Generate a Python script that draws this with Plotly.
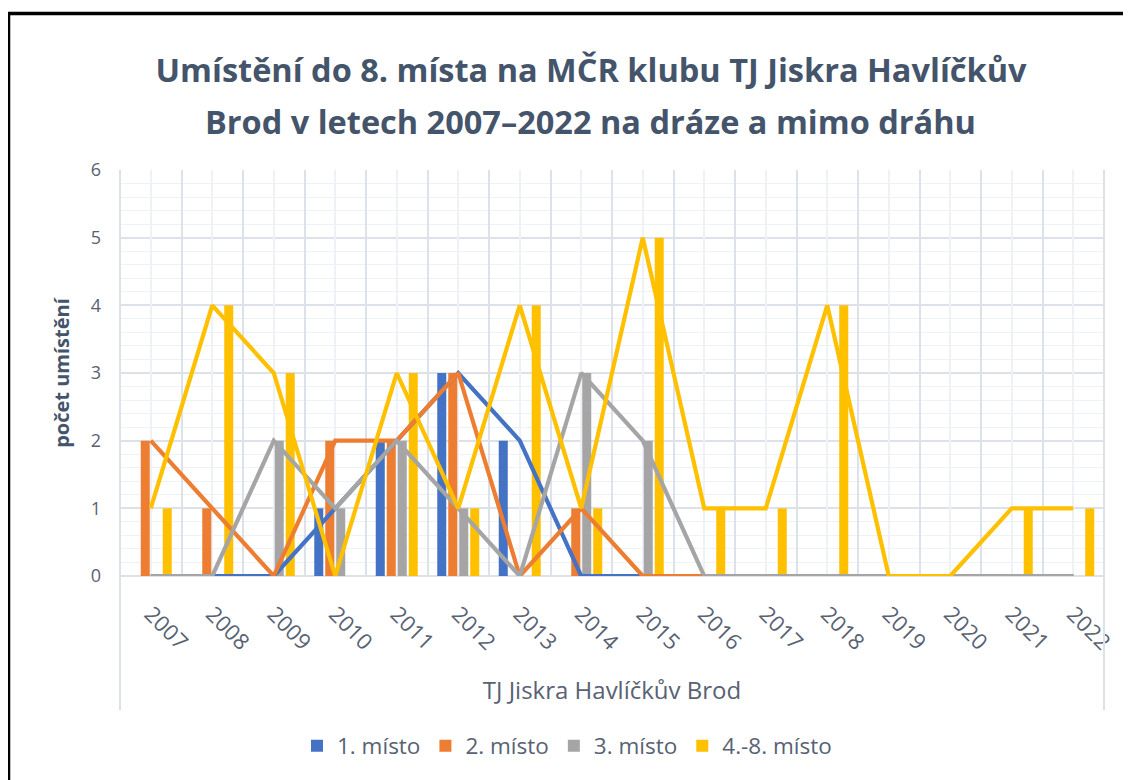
import plotly.graph_objects as go

years = [str(y) for y in range(2007, 2023)]
first = [0, 0, 0, 1, 2, 3, 2, 0, 0, 0, 0, 0, 0, 0, 0, 0]
second = [2, 1, 0, 2, 2, 3, 0, 1, 0, 0, 0, 0, 0, 0, 0, 0]
third = [0, 0, 2, 1, 2, 1, 0, 3, 2, 0, 0, 0, 0, 0, 0, 0]
fourth = [1, 4, 3, 0, 3, 1, 4, 1, 5, 1, 1, 4, 0, 0, 1, 1]

names = ["1. místo", "2. místo", "3. místo", "4.-8. místo"]
colors = ["#4472C4", "#ED7D31", "#A5A5A5", "#FFC000"]
series = [first, second, third, fourth]

title_line1 = "Umístění do 8. místa na MČR klubu TJ Jiskra Havlíčkův"
title_line2 = "Brod v letech 2007–2022 na dráze a mimo dráhu"
y_title = "počet umístění"
x_title = "TJ Jiskra Havlíčkův Brod"

TEXT = "#44546A"
TICK = "#586273"
GRID = "#DCE1EA"
MINOR = "#EEF1F5"
FONT = "Open Sans"

fig = go.Figure()
for n, c, s in zip(names, colors, series):
    fig.add_trace(go.Bar(x=years, y=s, name=n, marker=dict(color=c, line=dict(width=0)),
                         xaxis="x", yaxis="y", showlegend=True))
for n, c, s in zip(names, colors, series):
    fig.add_trace(go.Scatter(x=years, y=s, name=n, mode="lines",
                             line=dict(color=c, width=4.2), xaxis="x2", yaxis="y",
                             showlegend=False))

# page has an 8px body margin; work in page coordinates and convert
OFF = 8
W, H = 1131 - OFF, 780 - OFF
PL, PR, PT, PB = 120, 1104, 170, 576   # plot area in page px
L, R, T, B = PL - OFF, W - (PR - OFF), PT - OFF, H - (PB - OFF)
pw = PR - PL
ph = PB - PT

def px2x(px):
    return (px - PL) / pw

def py2y(py):
    return (PB - py) / ph

TSIZE = 32.5
fig.update_layout(
    width=W, height=H,
    margin=dict(l=L, r=R, t=T, b=B, autoexpand=False),
    paper_bgcolor="white", plot_bgcolor="white",
    barmode="group", bargap=0.285, bargroupgap=0.18,
    font=dict(family=FONT, color=TICK),
    title=dict(text=title_line1, x=(591 - OFF) / W, xanchor="center", xref="container",
               y=1 - (59 - OFF) / H, yanchor="top", yref="container",
               font=dict(family=FONT, size=TSIZE, color=TEXT, weight=700)),
    annotations=[dict(text=title_line2, xref="paper", yref="paper", x=px2x(590),
                      xanchor="center", y=py2y(122), yanchor="middle", showarrow=False,
                      font=dict(family=FONT, size=TSIZE, color=TEXT, weight=700))],
    xaxis=dict(type="category", categoryorder="array", categoryarray=years,
               range=[-0.5, 15.5], tickson="boundaries", showgrid=True, gridcolor=GRID,
               gridwidth=1.5, ticks="", tickangle=45, tickfont=dict(size=22, color=TICK),
               ticklabelstandoff=20, showline=False, zeroline=False,
               title=dict(text=x_title, font=dict(size=24, color=TICK), standoff=27)),
    xaxis2=dict(type="category", categoryorder="array", categoryarray=years,
                range=[-0.5, 15.5], overlaying="x", matches="x", showgrid=True,
                gridcolor=MINOR, gridwidth=1.5, showticklabels=False, ticks="",
                zeroline=False),
    yaxis=dict(range=[0, 6], dtick=1, showgrid=True, gridcolor=GRID, gridwidth=1.5,
               zeroline=True, zerolinecolor=GRID, zerolinewidth=1.5,
               tickfont=dict(size=18, color=TICK), ticks="", ticklabelstandoff=18,
               minor=dict(dtick=0.2, showgrid=True, gridcolor=MINOR, gridwidth=1.2),
               title=dict(text=y_title, font=dict(size=20, color=TEXT, weight=700),
                          standoff=15)),
    legend=dict(orientation="h", x=px2x(297), xanchor="left", y=py2y(746),
                yanchor="middle", font=dict(size=22.5, color=TICK),
                traceorder="normal", itemsizing="constant"),
    shapes=[
        dict(type="line", xref="paper", yref="paper", x0=0, x1=0, y0=py2y(170), y1=py2y(710),
             line=dict(color=GRID, width=2)),
        dict(type="line", xref="paper", yref="paper", x0=px2x(1104), x1=px2x(1104),
             y0=py2y(170), y1=py2y(710), line=dict(color=GRID, width=2)),
        dict(type="line", xref="paper", yref="paper", x0=px2x(OFF + 0.5), x1=px2x(OFF + 0.5),
             y0=py2y(12), y1=py2y(800), line=dict(color="black", width=3.5)),
        dict(type="line", xref="paper", yref="paper", x0=px2x(OFF), x1=px2x(1140),
             y0=py2y(13.5), y1=py2y(13.5), line=dict(color="black", width=3.5)),
    ],
)

fig.write_html("out.html")
